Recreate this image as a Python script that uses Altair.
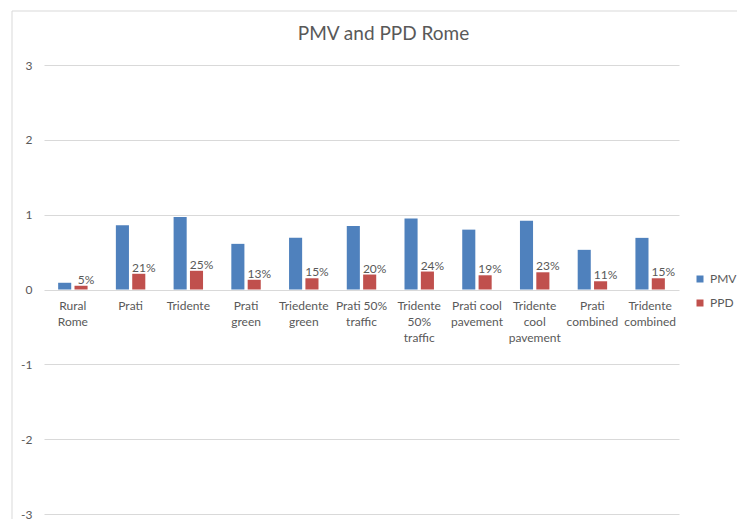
import altair as alt
import pandas as pd

categories = ["Rural Rome", "Prati", "Tridente", "Prati green", "Triedente green",
              "Prati 50% traffic", "Tridente 50% traffic", "Prati cool pavement",
              "Tridente cool pavement", "Prati combined", "Tridente combined"]
category_labels = ["Rural\nRome", "Prati", "Tridente", "Prati\ngreen", "Triedente\ngreen",
                   "Prati 50%\ntraffic", "Tridente\n50%\ntraffic", "Prati cool\npavement",
                   "Tridente\ncool\npavement", "Prati\ncombined", "Tridente\ncombined"]
pmv = [0.09, 0.86, 0.97, 0.61, 0.69, 0.85, 0.95, 0.80, 0.92, 0.53, 0.69]
ppd = [0.05, 0.21, 0.25, 0.13, 0.15, 0.20, 0.24, 0.19, 0.23, 0.11, 0.15]
series = ["PMV", "PPD"]
colors = ["#4F81BD", "#C0504D"]
y_ticks = [-3, -2, -1, 0, 1, 2, 3]

rows = []
for c, a, b in zip(categories, pmv, ppd):
    rows.append({"category": c, "series": "PMV", "value": a})
    rows.append({"category": c, "series": "PPD", "value": b})
df = pd.DataFrame(rows)
cat_df = pd.DataFrame({"category": categories, "label": category_labels})
frame_df = pd.DataFrame({"k": [0]})

W, H = 635, 449
FONT = "Lato"
GREY = "#595959"

x_enc = alt.X("category:N", sort=categories, axis=None,
              scale=alt.Scale(paddingInner=0.49, paddingOuter=0.245))
xo_enc = alt.XOffset("series:N", sort=series,
                     scale=alt.Scale(paddingInner=0.2, paddingOuter=0))
y_enc = alt.Y("value:Q", scale=alt.Scale(domain=[-3, 3], nice=False, zero=False),
              axis=alt.Axis(values=y_ticks, grid=True, gridColor="#D9D9D9", gridWidth=1,
                            domain=False, ticks=False, labelPadding=12, labelFontSize=12,
                            labelFont=FONT, labelColor=GREY, title=None,
                            labelExpr="datum.value < 0 ? '-' + abs(datum.value) : '' + datum.value"))

bars = alt.Chart(df).mark_bar().encode(
    x=x_enc, xOffset=xo_enc, y=y_enc,
    color=alt.Color("series:N", scale=alt.Scale(domain=series, range=colors),
                    legend=alt.Legend(title=None, orient="none", legendX=650, legendY=208,
                                      symbolType="square", symbolSize=49, symbolStrokeWidth=0,
                                      labelFontSize=12, labelFont=FONT, labelColor=GREY,
                                      rowPadding=12, labelOffset=4)),
)

pct = alt.Chart(df).transform_filter(alt.datum.series == "PPD").mark_text(
    baseline="alphabetic", dy=-2, dx=5, fontSize=12, font=FONT, color=GREY
).encode(
    x=x_enc, xOffset=xo_enc, y=alt.Y("value:Q"),
    text=alt.Text("value:Q", format=".0%"),
)

cats = alt.Chart(cat_df).mark_text(
    baseline="top", dy=11, fontSize=12, font=FONT, color=GREY, lineBreak="\n", lineHeight=16
).encode(
    x=alt.X("category:N", sort=categories, axis=None,
            scale=alt.Scale(paddingInner=0.49, paddingOuter=0.245)),
    y=alt.datum(0),
    text="label:N",
)

frame = alt.Chart(frame_df).mark_rect(fillOpacity=0, stroke="#D9D9D9", strokeWidth=1).encode(
    x=alt.value(-32), y=alt.value(-54), x2=alt.value(W + 200), y2=alt.value(H + 200)
)

chart = alt.layer(frame, bars, pct, cats).properties(
    width=W, height=H,
    title=alt.TitleParams("PMV and PPD Rome", fontSize=19, font=FONT, fontWeight="normal",
                          color=GREY, anchor="middle", dx=22, dy=45, offset=12),
    autosize=alt.AutoSizeParams(type="none"),
    padding={"left": 36, "top": 57, "right": 58, "bottom": 5},
).configure_view(strokeWidth=0)

chart.save("out.html", embed_options={"renderer": "svg", "actions": False})
